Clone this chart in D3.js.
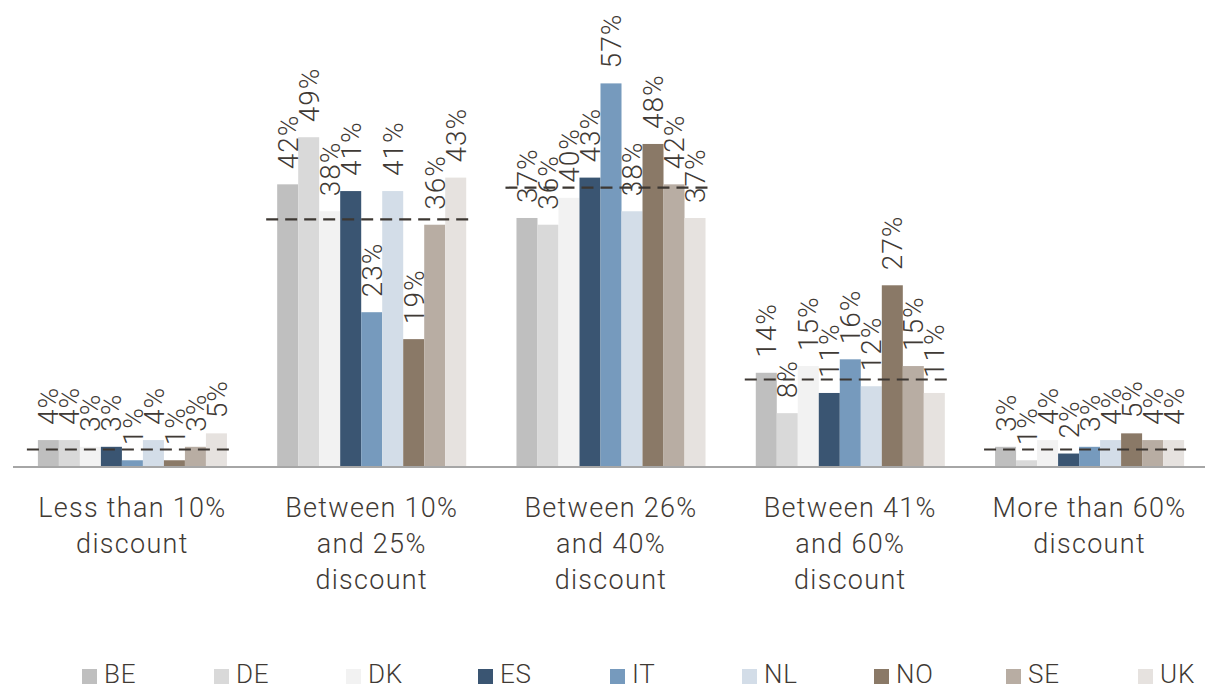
<!DOCTYPE html>
<html>
<head>
<meta charset="utf-8">
<script src="https://cdn.jsdelivr.net/npm/d3@7"></script>
<style>
  html, body { margin: 0; padding: 0; background: #ffffff; }
  svg { display: block; }
  text { font-family: Roboto, "Liberation Sans", sans-serif; font-weight: 300; fill: #3f3a35; }
</style>
</head>
<body>
<svg id="chart" width="1205" height="690"></svg>
<script>
// Discount bands shown on the x axis (one line per array entry)
const categories = ["Less than 10% discount", "Between 10% and 25% discount", "Between 26% and 40% discount", "Between 41% and 60% discount", "More than 60% discount"];
const categoryLines = [
  ["Less than 10%", "discount"],
  ["Between 10%", "and 25%", "discount"],
  ["Between 26%", "and 40%", "discount"],
  ["Between 41%", "and 60%", "discount"],
  ["More than 60%", "discount"]
];
const countries = ["BE", "DE", "DK", "ES", "IT", "NL", "NO", "SE", "UK"];

// Share of respondents (%) per country, one array per discount band
const lessThan10 = [4, 4, 3, 3, 1, 4, 1, 3, 5];
const between10and25 = [42, 49, 38, 41, 23, 41, 19, 36, 43];
const between26and40 = [37, 36, 40, 43, 57, 38, 48, 42, 37];
const between41and60 = [14, 8, 15, 11, 16, 12, 27, 15, 11];
const moreThan60 = [3, 1, 4, 2, 3, 4, 5, 4, 4];

// Overall average per band (dashed reference lines)
const averages = [2.6, 36.8, 41.5, 13.0, 2.6];

const colors = ["#bfbfbf", "#d9d9d9", "#f2f2f2", "#3a5572", "#769abd", "#d3dde8", "#8a7967", "#b8ada3", "#e6e2df"];

const seriesByBand = [lessThan10, between10and25, between26and40, between41and60, moreThan60];

const svg = d3.select("#chart");

const baseY = 467;
const x0 = d3.scaleBand().domain(categories).range([13, 1209]).paddingInner(0.21).paddingOuter(0.104);
const x1 = d3.scaleBand().domain(countries).range([0, x0.bandwidth()]);
const y = d3.scaleLinear().domain([0, 60]).range([baseY, baseY - 60 * 6.73]);
const color = d3.scaleOrdinal().domain(countries).range(colors);

const rows = categories.map((c, i) => ({
  category: c,
  lines: categoryLines[i],
  avg: averages[i],
  values: countries.map((k, j) => ({ country: k, value: seriesByBand[i][j] }))
}));

const groups = svg.selectAll("g.band").data(rows).join("g")
  .attr("class", "band")
  .attr("transform", d => `translate(${x0(d.category)},0)`);

// Bars
groups.selectAll("rect").data(d => d.values).join("rect")
  .attr("x", d => x1(d.country))
  .attr("y", d => y(d.value))
  .attr("width", x1.bandwidth())
  .attr("height", d => baseY - y(d.value))
  .attr("fill", d => color(d.country));

// Average dashed line across each band
groups.append("line")
  .attr("x1", -11)
  .attr("x2", x0.bandwidth() + 8)
  .attr("y1", d => y(d.avg))
  .attr("y2", d => y(d.avg))
  .attr("stroke", "#3c3732")
  .attr("stroke-width", 2.2)
  .attr("stroke-dasharray", "12,7");

// Rotated value labels
groups.selectAll("text.val").data(d => d.values).join("text")
  .attr("class", "val")
  .attr("transform", d => `translate(${x1(d.country) + x1.bandwidth() / 2},${y(d.value) - 15}) rotate(-90)`)
  .attr("dy", "0.36em")
  .attr("text-anchor", "start")
  .style("font-size", "28px")
  .style("letter-spacing", "1px")
  .text(d => d.value + "%");

// X axis line
const xAxis = svg.append("g").attr("transform", `translate(0,${baseY})`)
  .call(d3.axisBottom(x0).tickSize(0).tickFormat(""));
xAxis.select(".domain").attr("stroke", "#a6a6a6").attr("stroke-width", 2)
  .attr("d", `M13,0H1205`);

// Category labels, multi-line
const catLabels = svg.selectAll("text.cat").data(rows).join("text")
  .attr("class", "cat")
  .attr("text-anchor", "middle")
  .style("font-size", "27px")
  .style("letter-spacing", "1.3px")
  .attr("x", d => x0(d.category) + x0.bandwidth() / 2)
  .attr("y", 517);
catLabels.selectAll("tspan").data(d => d.lines).join("tspan")
  .attr("x", function () { return d3.select(this.parentNode).attr("x"); })
  .attr("dy", (d, i) => i === 0 ? 0 : 36)
  .text(d => d);

// Legend
const legend = svg.append("g").selectAll("g").data(countries).join("g")
  .attr("transform", (d, i) => `translate(${82 + i * 132},0)`);
legend.append("rect")
  .attr("x", 0).attr("y", 669).attr("width", 15).attr("height", 15)
  .attr("fill", d => color(d));
legend.append("text")
  .attr("x", 22).attr("y", 683)
  .style("font-size", "26px")
  .style("letter-spacing", "0.8px")
  .text(d => d);
</script>
</body>
</html>
